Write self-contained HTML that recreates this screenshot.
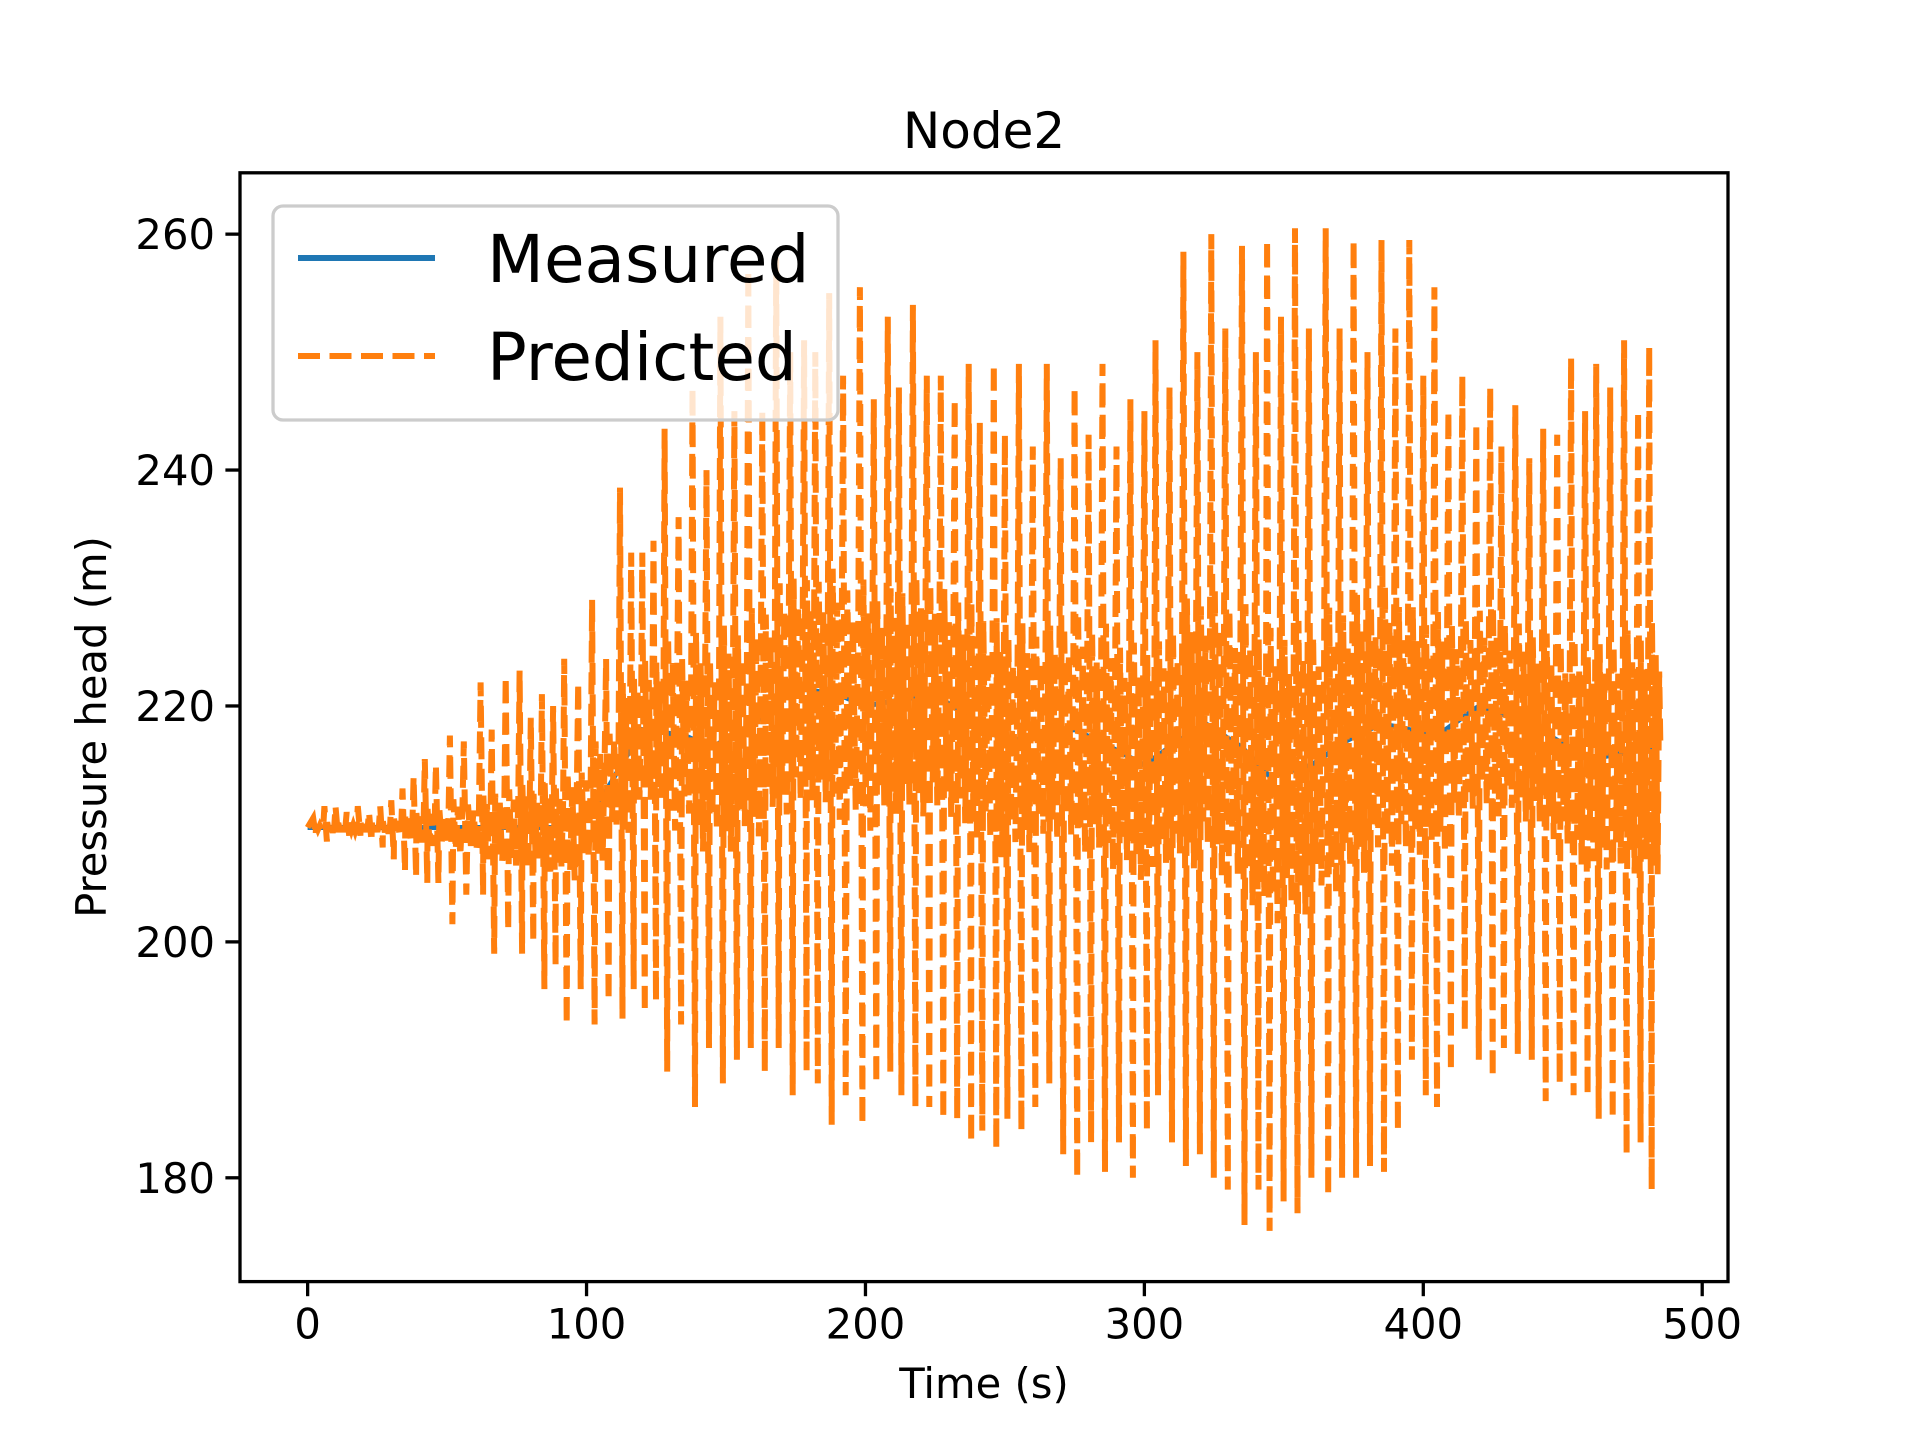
<!DOCTYPE html>
<html><head><meta charset="utf-8"><style>
html,body{margin:0;padding:0;background:#fff}
svg text{font-family:"DejaVu Sans","Liberation Sans",sans-serif;fill:#000}
</style></head><body>
<svg id="chart" width="1920" height="1440" viewBox="0 0 1920 1440" xmlns="http://www.w3.org/2000/svg">
<rect width="1920" height="1440" fill="#fff"/>
<text x="984" y="148" font-size="50" text-anchor="middle">Node2</text>
<g id="plot"></g>
<g id="axes"></g>
<text x="984" y="1398" font-size="41.7" text-anchor="middle">Time (s)</text>
<text transform="translate(106,727) rotate(-90)" font-size="41.7" text-anchor="middle">Pressure head (m)</text>
<g>
<rect x="273" y="206" width="565" height="214" rx="10" fill="#fff" fill-opacity="0.8" stroke="#cccccc" stroke-width="3.3"/>
<line x1="298" y1="258" x2="435" y2="258" stroke="#1f77b4" stroke-width="6"/>
<text x="487" y="282" font-size="66">Measured</text>
<line x1="298" y1="356" x2="435" y2="356" stroke="#ff7f0e" stroke-width="6" stroke-dasharray="22 9.5"/>
<text x="487" y="380" font-size="66">Predicted</text>
</g>
</svg>
<script>
const measT=[0,95,105,120,135,145,160,175,190,200,212,225,237,250,262,275,288,300,312,322,335,345,360,372,385,395,405,420,432,445,460,472,485];
const measV=[209.7,209.7,212,218,217.5,216.5,218.5,221.5,221,220,220.5,221,219,217,217.5,218,216.5,215,217,218.5,216.5,214,215,217,218.5,218,217.5,220,219,217.5,215.5,216,216.5];
const cycT=[2,6,10,14,18,22,26,30,34,38,42,46,51,56,62,66,71,76,80,84,88,92,97,102,107,112,116,120,124,128,133,138,143,148,153,158,163,168,173,178,182,187,192,198,203,208,212,217,222,227,232,237,241,246,250,255,260,265,270,275,280,285,290,295,300,304,309,314,319,324,329,335,340,344,349,354,359,365,370,375,380,385,390,395,400,404,409,414,419,424,428,433,438,443,448,453,458,462,467,472,477,481];
const cycPeak=[210.5,211.5,211.5,211,211.5,211,211.5,212,213,214,215.5,215,217.5,217,222,218,222.5,223,219,221,220,224,222,229,224,238.5,233,233,234,243.5,236,247,240,253,245,257,245,258,250,251,250,255,248,255.5,246,253,247,254,248,248,246,249,244,249,243,249,242,249,241,247,243,249,242,246,245,251,247,258.5,250,260,252,259,250,259.5,253,260.5,252,260.5,252,259.5,250,259.5,252,259.5,248,255.5,245,248,244,247,242,245.5,241,243.5,243,249.5,245,249,247,251,245,250.5];
const cycTrough=[209,208.5,209,209,209,208.5,208,207,206,205.5,205,205,201.5,204,204,199,201,199,200,196,198,193,196,193,195,193.5,196,194,195,189,193,186,191,188,190,191,189,191,187,189,188,184.5,187,184.5,188,189,187,186,186,185,185,183,184,182.5,185,184,186,188,182,180,183,180.5,183,180,184,187,183,181,182,180,179,176,179,175.5,178,177,180,178.5,180,180,181,180.5,184,190,187,186,189,192.5,190,188.5,191,190.5,190,186.5,188,187,187,185,185,182,183,179];
const innerFrac=[0.25,0.42,0.58,0.75,0.9];
const innerAmp=[0.3,-0.24,0.22,-0.3,0.18];

const NS='http://www.w3.org/2000/svg';
const L=240,R=1728,T=172.8,B=1281.6;
const xmin=-24.25,xmax=509.25,ymin=171.2,ymax=265.2;
const X=v=>L+(v-xmin)/(xmax-xmin)*(R-L);
const Y=v=>B-(v-ymin)/(ymax-ymin)*(B-T);
function meas(t){
  if(t<=measT[0])return measV[0];
  for(let i=1;i<measT.length;i++){if(t<=measT[i]){const f=(t-measT[i-1])/(measT[i]-measT[i-1]);return measV[i-1]+f*(measV[i]-measV[i-1]);}}
  return measV[measV.length-1];
}
const plot=document.getElementById('plot');
const axes=document.getElementById('axes');
function mk(tag,attrs,parent){const e=document.createElementNS(NS,tag);for(const k in attrs)e.setAttribute(k,attrs[k]);parent.appendChild(e);return e;}
const defs=mk('defs',{},plot);
const cp=mk('clipPath',{id:'clip'},defs);
mk('rect',{x:L,y:T,width:R-L,height:B-T},cp);
let md='';
for(let t=0;t<=485;t+=1){md+=(t?'L':'M')+X(t).toFixed(1)+' '+Y(meas(t)).toFixed(1);}
const ml=mk('path',{d:md,fill:'none',stroke:'#1f77b4','stroke-width':5,'clip-path':'url(#clip)'},plot);


let pts=[[0,209.7]];
for(let k=0;k<cycT.length;k++){
  const t=cycT[k];
  const next=k+1<cycT.length?cycT[k+1]:485;
  pts.push([t,cycPeak[k]]);
  pts.push([t+0.9,cycTrough[k]]);
  const half=(cycPeak[k]-cycTrough[k])/2;
  for(let j=0;j<innerFrac.length;j++){
    const tt=t+innerFrac[j]*(next-t);
    pts.push([tt,meas(tt)+innerAmp[j]*half]);
  }
}
pts.push([485,meas(485)]);
let pd='';
pts.forEach((p,i)=>{pd+=(i?'L':'M')+X(p[0]).toFixed(1)+' '+Y(p[1]).toFixed(1);});
const pl=mk('path',{d:pd,fill:'none',stroke:'#ff7f0e','stroke-width':6,'stroke-dasharray':'22 9.5','clip-path':'url(#clip)'},plot);


const fr=mk('rect',{x:L,y:T,width:R-L,height:B-T,fill:'none',stroke:'#000','stroke-width':3.3},axes);


const xt=[0,100,200,300,400,500];
const yt=[180,200,220,240,260];
xt.forEach(v=>{
  const tk=mk('line',{x1:X(v),x2:X(v),y1:B,y2:B+14.6,stroke:'#000','stroke-width':3.3},axes);
  
  
  const tx=mk('text',{x:X(v),y:B+57,'font-size':41.7,'text-anchor':'middle'},axes);
  tx.textContent=v;
  
  
});
yt.forEach(v=>{
  const tk=mk('line',{x1:L-14.6,x2:L,y1:Y(v),y2:Y(v),stroke:'#000','stroke-width':3.3},axes);
  
  
  const tx=mk('text',{x:L-25,y:Y(v)+15,'font-size':41.7,'text-anchor':'end'},axes);
  tx.textContent=v;
  
  
});
</script>
</body></html>
